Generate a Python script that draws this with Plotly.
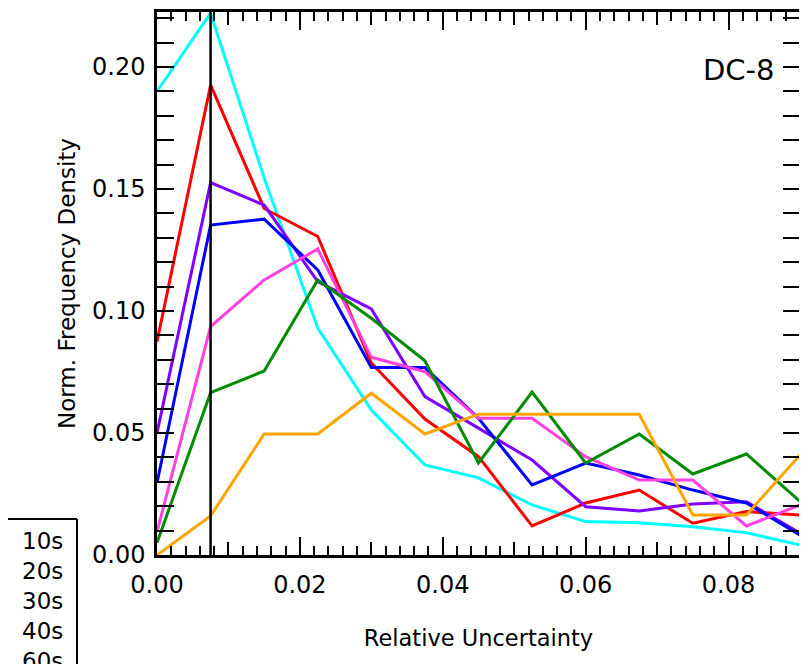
import plotly.graph_objects as go

# ---- data ----
x_bins = [0.0, 0.0075, 0.015, 0.0225, 0.03, 0.0375, 0.045, 0.0525, 0.06, 0.0675, 0.075, 0.0825, 0.09]
series_names = ["10s", "20s", "30s", "40s", "60s", "90s", "120s"]
series_colors = ["#00FFFF", "#FF0000", "#7F00FF", "#0000FF", "#FF40E0", "#008C00", "#FFA500"]
s10 = [0.190, 0.222, 0.1545, 0.093, 0.0594, 0.0369, 0.0316, 0.0205, 0.0137, 0.0132, 0.0116, 0.0091, 0.0041]
s20 = [0.0874, 0.1926, 0.142, 0.1305, 0.0787, 0.0557, 0.0403, 0.0119, 0.0213, 0.0266, 0.013, 0.0178, 0.0164]
s30 = [0.050, 0.1526, 0.1434, 0.112, 0.1008, 0.0649, 0.052, 0.0389, 0.0198, 0.018, 0.0209, 0.0218, 0.009]
s40 = [0.0295, 0.1352, 0.1376, 0.1168, 0.0768, 0.0768, 0.0560, 0.0287, 0.0377, 0.0328, 0.0266, 0.0213, 0.0082]
s60 = [0.0095, 0.0936, 0.1127, 0.1254, 0.081, 0.0751, 0.056, 0.056, 0.0403, 0.0307, 0.0307, 0.0119, 0.0205]
s90 = [0.005, 0.0665, 0.0754, 0.1127, 0.097, 0.0796, 0.0377, 0.0668, 0.0377, 0.0496, 0.0332, 0.0414, 0.022]
s120 = [0.0, 0.016, 0.0496, 0.0496, 0.0663, 0.0496, 0.0577, 0.0577, 0.0577, 0.0577, 0.0164, 0.0164, 0.041]
series_values = [s10, s20, s30, s40, s60, s90, s120]
cutoff = 0.0075
x_range = [0.0, 0.09]
y_range = [0.0, 0.2225]
x_ticks = [0.0, 0.02, 0.04, 0.06, 0.08]
x_mid_ticks = [0.01, 0.03, 0.05, 0.07, 0.09]
y_ticks = [0.0, 0.05, 0.10, 0.15, 0.20]

FONT = "DejaVu Sans"

fig = go.Figure()
for name, color, vals in zip(series_names, series_colors, series_values):
    fig.add_trace(go.Scatter(x=x_bins, y=vals, mode="lines", name=name,
                             line=dict(color=color, width=3), showlegend=False))

# helper trace to anchor the secondary (medium tick) axis
fig.add_trace(go.Scatter(x=[None], y=[None], xaxis="x2", yaxis="y", mode="lines",
                         showlegend=False, hoverinfo="skip"))

fig.add_shape(type="line", xref="x", yref="paper", x0=cutoff, x1=cutoff, y0=0, y1=1,
              line=dict(color="black", width=2.5), layer="above")

fig.add_annotation(text="DC-8", xref="paper", yref="paper", x=0.9643, y=0.893,
                   xanchor="right", yanchor="middle", showarrow=False,
                   font=dict(family=FONT, size=29, color="black"))

# ---- legend box (lower-left, running off the page edges as in the original) ----
leg_left, leg_right, leg_top, leg_bottom = -0.6, -0.1244, 0.0663, -0.45
fig.add_shape(type="rect", xref="paper", yref="paper", x0=leg_left, x1=leg_right,
              y0=leg_bottom, y1=leg_top, line=dict(width=0),
              fillcolor="white", layer="above")
fig.add_shape(type="line", xref="paper", yref="paper", x0=leg_left, x1=leg_right,
              y0=leg_top, y1=leg_top, line=dict(color="black", width=2), layer="above")
fig.add_shape(type="line", xref="paper", yref="paper", x0=leg_right, x1=leg_right,
              y0=leg_bottom, y1=leg_top, line=dict(color="black", width=2), layer="above")
leg_text_x = -0.2135
leg_first_y = 0.0258
leg_step = 0.05525
for i, (name, color) in enumerate(zip(series_names, series_colors)):
    yy = leg_first_y - i * leg_step
    fig.add_shape(type="line", xref="paper", yref="paper", x0=-0.29, x1=-0.241,
                  y0=yy, y1=yy, line=dict(color=color, width=3), layer="above")
    fig.add_annotation(text=name, xref="paper", yref="paper", x=leg_text_x, y=yy,
                       xanchor="left", yanchor="middle", showarrow=False,
                       font=dict(family=FONT, size=23, color="black"))

axis_common = dict(showgrid=False, zeroline=False, showline=True, linecolor="black",
                   linewidth=2.5, mirror="allticks", ticks="inside", tickcolor="black")

fig.update_layout(
    width=799, height=656,
    margin=dict(l=149, r=7, t=4, b=109, autoexpand=False),
    paper_bgcolor="white", plot_bgcolor="white",
    font=dict(family=FONT, size=23, color="black"),
    xaxis=dict(range=x_range, tickvals=x_ticks, tickformat=".2f", ticklen=18, tickwidth=2,
               minor=dict(dtick=0.002, tick0=0, ticklen=9, tickwidth=2, ticks="inside", tickcolor="black"),
               title=dict(text="Relative Uncertainty", font=dict(size=22.5), standoff=33),
               tickfont=dict(size=24), ticklabelstandoff=6, **axis_common),
    xaxis2=dict(range=x_range, overlaying="x", anchor="y", side="bottom", tickvals=x_mid_ticks,
                showticklabels=False, ticklen=13, tickwidth=2, showgrid=False, zeroline=False,
                showline=False, ticks="inside", tickcolor="black", mirror="allticks"),
    yaxis=dict(range=y_range, tickvals=y_ticks, tickformat=".2f", ticklen=17, tickwidth=2,
               minor=dict(dtick=0.01, tick0=0, ticklen=10, tickwidth=2, ticks="inside", tickcolor="black"),
               title=dict(text="Norm. Frequency Density", font=dict(size=23), standoff=10),
               tickfont=dict(size=24), ticklabelstandoff=4, **axis_common),
    showlegend=False,
)

fig.write_html("out.html")
